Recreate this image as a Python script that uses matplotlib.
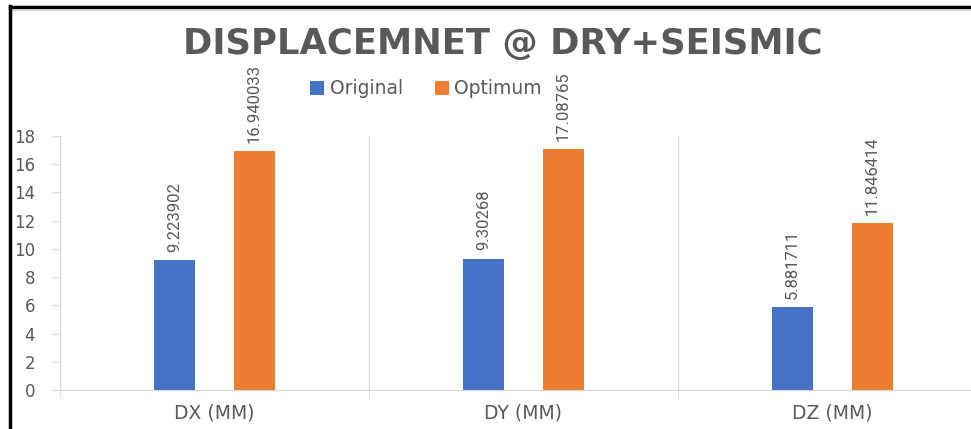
import matplotlib
matplotlib.use("Agg")
import matplotlib.pyplot as plt
from matplotlib.lines import Line2D
import numpy as np

categories = ["DX (MM)", "DY (MM)", "DZ (MM)"]
original = [9.223902, 9.30268, 5.881711]
optimum = [16.940033, 17.08765, 11.846414]
original_labels = ["9.223902", "9.30268", "5.881711"]
optimum_labels = ["16.940033", "17.08765", "11.846414"]
yticks = [0, 2, 4, 6, 8, 10, 12, 14, 16, 18]

W, H = 971, 429
fig = plt.figure(figsize=(W / 100, H / 100), dpi=100)
fig.patch.set_facecolor("white")

gray = "#595959"
light = "#d9d9d9"
blue = "#4472c4"
orange = "#ed7d31"

ax = fig.add_axes([60 / W, 39 / H, (W - 60) / W, 254 / H])
x = np.arange(len(categories))
bw = 0.135
off = 0.129
b1 = ax.bar(x - off, original, bw, color=blue, label="Original")
b2 = ax.bar(x + off, optimum, bw, color=orange, label="Optimum")

vfont = "Roboto"
for xi, v, s in zip(x - off, original, original_labels):
    ax.annotate(s, (xi, v), xytext=(0, 6), textcoords="offset points",
                rotation=90, ha="center", va="bottom", color=gray,
                fontsize=12, family=vfont)
for xi, v, s in zip(x + off, optimum, optimum_labels):
    ax.annotate(s, (xi, v), xytext=(0, 6), textcoords="offset points",
                rotation=90, ha="center", va="bottom", color=gray,
                fontsize=12, family=vfont, annotation_clip=False)

ax.set_yticks(yticks)
ax.set_yticklabels([str(t) for t in yticks], color=gray, fontsize=12, family="DejaVu Sans")
ax.set_xticks(x)
ax.set_xticklabels(categories, color=gray, fontsize=13.5, family="DejaVu Sans")
ax.set_xticks(np.arange(-0.5, len(categories) + 0.5, 1.0), minor=True)
ax.set_xlim(-0.5, -0.5 + (W - 60) / 309)
ax.set_ylim(0, 18)
ax.tick_params(axis="x", which="major", length=0, pad=10)
ax.tick_params(axis="x", which="minor", length=5, color=light)
ax.tick_params(axis="y", length=6, color=light, pad=12)
ax.grid(axis="x", which="minor", color=light, linewidth=1)
ax.set_axisbelow(True)
for s in ["top", "right"]:
    ax.spines[s].set_visible(False)
ax.spines["left"].set_color(light)
ax.spines["bottom"].set_color(light)

fig.text(503 / W, 1 - 44 / H, "DISPLACEMNET @ DRY+SEISMIC", ha="center", va="center",
         color=gray, fontsize=25.5, fontweight="bold", family="DejaVu Sans")

fig.legend(handles=[b1, b2], labels=["Original", "Optimum"], loc="center",
           bbox_to_anchor=(426 / W, 1 - 89 / H), ncol=2, frameon=False,
           handlelength=0.75, handleheight=0.75, handletextpad=0.3,
           columnspacing=1.7, labelcolor=gray, prop={"family": "DejaVu Sans", "size": 13.5})

fig.add_artist(Line2D([10 / W, 1], [1 - 7 / H, 1 - 7 / H], color="black", linewidth=2.5,
                      transform=fig.transFigure))
fig.add_artist(Line2D([10 / W, 1], [1 - 10 / H, 1 - 10 / H], color=light, linewidth=1,
                      transform=fig.transFigure))
fig.add_artist(Line2D([10 / W, 10 / W], [0, 1 - 6 / H], color="black", linewidth=2.5,
                      transform=fig.transFigure))

fig.savefig("out.png", dpi=100)
